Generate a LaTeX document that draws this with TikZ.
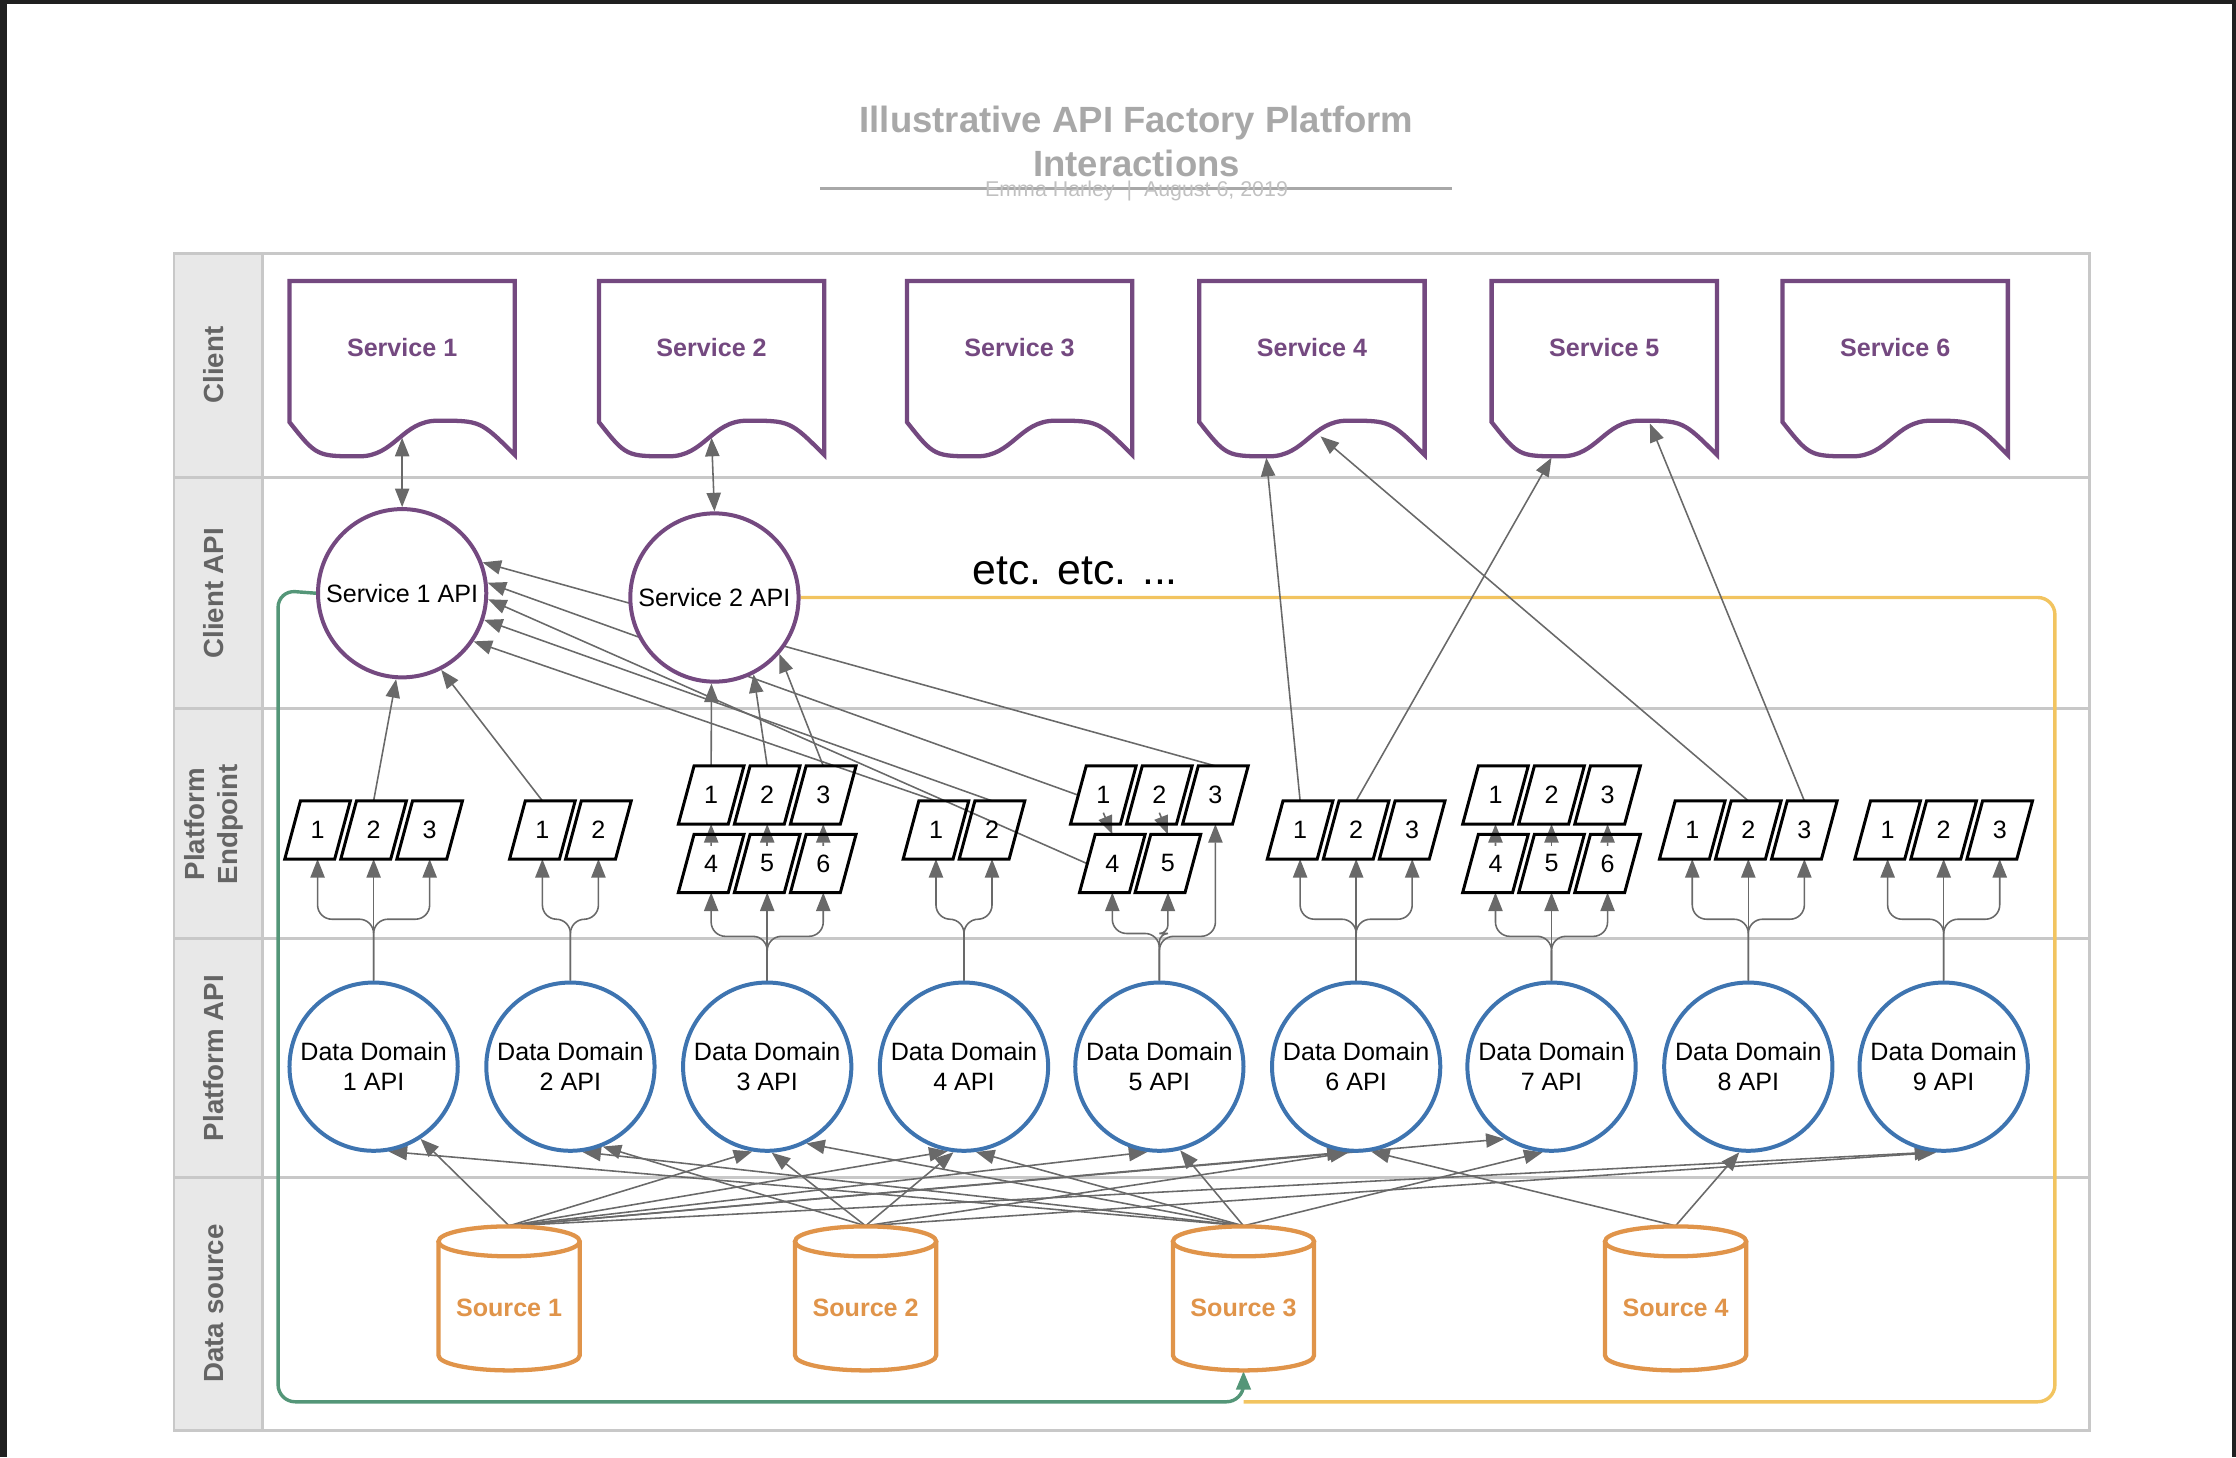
\documentclass[tikz,border=0pt]{standalone}
\usepackage{fontspec}
\setmainfont{Liberation Sans}
\usetikzlibrary{shapes.geometric, arrows.meta, positioning, calc}
\definecolor{svcpurple}{RGB}{116, 73, 128}
\definecolor{ddblue}{RGB}{62, 116, 176}
\definecolor{srcorange}{RGB}{224, 148, 74}
\definecolor{loopgreen}{RGB}{84, 150, 120}
\definecolor{loopyellow}{RGB}{242, 196, 96}
\definecolor{conngray}{RGB}{105, 105, 105}
\definecolor{lanegray}{RGB}{200, 200, 200}
\definecolor{headfill}{RGB}{232, 232, 232}
\definecolor{labelgray}{RGB}{100, 100, 100}
\definecolor{titlegray}{RGB}{168, 168, 168}
\definecolor{subgray}{RGB}{192, 192, 192}
\definecolor{framedark}{RGB}{32, 32, 32}

\pgfdeclarelayer{bg}
\pgfsetlayers{bg,main}

\tikzset{
  conn/.style={draw=conngray, line width=0.55pt, -{Triangle[length=6.5pt, width=5pt]}},
  dconn/.style={conn, {Triangle[length=6.5pt, width=5pt]}-{Triangle[length=6.5pt, width=5pt]}},
  lanebd/.style={draw=lanegray, line width=1pt},
  lanelbl/.style={rotate=90, align=center, text=labelgray, font=\fontsize{9.7}{11.5}\selectfont\bfseries},
  svcline/.style={draw=svcpurple, line width=1.5pt, fill=white},
  svctext/.style={text=svcpurple, font=\fontsize{8.8}{10.5}\selectfont\bfseries},
  capi/.style={circle, draw=svcpurple, line width=1.4pt, fill=white, minimum size=59pt, inner sep=0pt, font=\fontsize{8.8}{10.5}\selectfont},
  dd/.style={circle, draw=ddblue, line width=1.4pt, fill=white, minimum size=59pt, inner sep=0pt, align=center, font=\fontsize{8.8}{10.5}\selectfont},
  epline/.style={draw=black, line width=1.05pt},
  ep/.style={rectangle, minimum width=17.5pt, minimum height=20pt, inner sep=0pt, font=\fontsize{8.8}{10}\selectfont,
    append after command={\pgfextra{\draw[epline] ([xshift=-11.5pt]\tikzlastnode.south) -- ([xshift=6pt]\tikzlastnode.south)
      -- ([xshift=11.5pt]\tikzlastnode.north) -- ([xshift=-6pt]\tikzlastnode.north) -- cycle;}}},
  srcbox/.style={minimum width=49.5pt, minimum height=50.5pt, inner sep=0pt, text height=13pt, text depth=0pt, text=srcorange, font=\fontsize{8.8}{10.5}\selectfont\bfseries},
  srcline/.style={draw=srcorange, line width=1.5pt},
  loopline/.style={line width=1.2pt, rounded corners=6pt}
}

\begin{document}
\begin{tikzpicture}[x=0.5pt, y=-0.5pt]
  \useasboundingbox (0,0) rectangle (1568,1022);
  \fill[framedark] (0,0) rectangle (5,1022);
  \fill[framedark] (0,0) rectangle (1568,2.5);
  \fill[framedark] (1565.5,0) rectangle (1568,1022);

  % Title
  \node[align=center, inner sep=0pt, text=titlegray, font=\fontsize{12.8}{15.5}\selectfont\bfseries] (title) at (797,99)
    {Illustrative API Factory Platform\\Interactions};
  \draw[draw=titlegray, line width=1pt] (575,132) -- (1018,132);
  \node[inner sep=0pt, text=subgray, font=\fontsize{7.5}{9}\selectfont] (byline) at (797,134) {Emma Harley~~|~~August 6, 2019};

  % Swimlanes
  \begin{pgfonlayer}{bg}
    \fill[headfill] (122,178) rectangle (184,1003);
    \draw[lanebd] (122,178) rectangle (1465,1003);
    \draw[lanebd] (184,178) -- (184,1003);
    \foreach \y in {335,497,658,826}
      \draw[lanebd] (122,\y) -- (1465,\y);
  \end{pgfonlayer}
  \node[lanelbl] (lclient) at (150,256) {Client};
  \node[lanelbl] (lcapi) at (150,416) {Client API};
  \node[lanelbl] (lpend) at (150,578) {Platform\\Endpoint};
  \node[lanelbl] (lpapi) at (150,742) {Platform API};
  \node[lanelbl] (lsrc) at (150,914) {Data source};

  % Client
  \foreach \i/\x in {1/282,2/499,3/715,4/920,5/1125,6/1329} {
    \draw[svcline] (\x-79,197) -- (\x+79,197) -- (\x+79,319)
      .. controls (\x+55,295) .. (\x+25,295)
      .. controls (\x,295) and (\x-5,320) .. (\x-30,320)
      .. controls (\x-60,320) .. (\x-79,296) -- cycle;
    \node[svctext] (svc\i) at (\x,244) {Service \i};
  }
  \coordinate (s1w) at (282,307);
  \coordinate (s2w) at (499,307);
  \coordinate (s4a) at (888,321);
  \coordinate (s4b) at (926,306);
  \coordinate (s5a) at (1088,321);
  \coordinate (s5b) at (1157,297);

  % Client API
  \node[capi] (s1api) at (282,416) {Service 1 API};
  \node[capi] (s2api) at (501,419) {Service 2 API};
  \node[font=\fontsize{15}{18}\selectfont] (etc) at (754,400) {etc. etc. ...};

  % Platform API
  \foreach \i/\x in {1/262,2/400,3/538,4/676,5/813,6/951,7/1088,8/1226,9/1363}
    \node[dd] (dd\i) at (\x,748) {Data Domain\\\i~API};

  % Platform Endpoint
  \foreach \g/\c in {1/262,6/951,8/1226,9/1363}
    \foreach \k in {1,2,3}
      \node[ep] (ep\g\k) at (\c+39.3*\k-78.6,582) {\k};
  \foreach \g/\c in {2/400,4/676}
    \foreach \k in {1,2}
      \node[ep] (ep\g\k) at (\c+39.3*\k-58.95,582) {\k};
  \foreach \g/\c in {3/538,5/813,7/1088}
    \foreach \k in {1,2,3}
      \node[ep] (ep\g\k) at (\c+39.3*\k-78.6,557.5) {\k};
  \foreach \g/\c in {3/538,7/1088}
    \foreach \k in {4,5,6}
      \node[ep] (ep\g\k) at (\c+39.3*\k-196.5,605.5) {\k};
  \node[ep] (ep54) at (780,605.5) {4};
  \node[ep] (ep55) at (819,605.5) {5};

  % Data source
  \foreach \i/\x in {1/357,2/607,3/872,4/1175} {
    \draw[srcline, fill=white] (\x-49.5,870.5) -- (\x-49.5,950.5)
      arc[start angle=180, end angle=360, x radius=24.75pt, y radius=5.25pt] -- (\x+49.5,870.5);
    \draw[srcline] (\x,870.5) ellipse [x radius=24.75pt, y radius=5.25pt];
    \node[srcbox] (src\i) at (\x,910.5) {Source \i};
  }

  \begin{pgfonlayer}{bg}
    % loops round the lanes
    \draw[loopline, draw=loopyellow] (s2api.east) -- (1441,419) -- (1441,983) -- (872,983);
    \draw[loopline, draw=loopgreen, -{Triangle[length=6.5pt, width=5pt]}]
      (s1api.west) -- (195,414) -- (195,983) -- (872,983) -- (src3.south);

    % client to client API
    \draw[dconn] (s1w) -- (s1api.north);
    \draw[dconn] (s2w) -- (s2api.north);

    % data domains to endpoints
    \foreach \g in {1,6,8,9} {
      \draw[conn] (dd\g.north) -- (ep\g2.south);
      \draw[conn, rounded corners=5pt] (dd\g.north) -- ++(0,-43) -| (ep\g1.south);
      \draw[conn, rounded corners=5pt] (dd\g.north) -- ++(0,-43) -| (ep\g3.south);
    }
    \foreach \g in {2,4} {
      \draw[conn, rounded corners=5pt] (dd\g.north) -- ++(0,-43) -| (ep\g1.south);
      \draw[conn, rounded corners=5pt] (dd\g.north) -- ++(0,-43) -| (ep\g2.south);
    }
    \foreach \g in {3,7} {
      \draw[conn] (dd\g.north) -- (ep\g5.south);
      \draw[conn, rounded corners=5pt] (dd\g.north) -- ++(0,-31) -| (ep\g4.south);
      \draw[conn, rounded corners=5pt] (dd\g.north) -- ++(0,-31) -| (ep\g6.south);
      \draw[conn] ([yshift=-4pt]ep\g4.north) -- (ep\g1.south);
      \draw[conn] ([yshift=-4pt]ep\g5.north) -- (ep\g2.south);
      \draw[conn] ([yshift=-4pt]ep\g6.north) -- (ep\g3.south);
    }
    \draw[conn, rounded corners=5pt] (dd5.north) -- ++(0,-33) -| (ep54.south);
    \draw[conn, rounded corners=3pt] (dd5.north) -- ++(0,-33) -| (ep55.south);
    \draw[conn, rounded corners=5pt] (dd5.north) -- ++(0,-31) -| (ep53.south);
    \draw[conn] ([yshift=4pt]ep51.south) -- (ep54.north);
    \draw[conn] ([yshift=4pt]ep52.south) -- (ep55.north);

    % endpoints to client APIs
    \draw[conn] (ep12.north) -- (s1api.-94);
    \draw[conn] (ep21.north) -- (s1api.-63);
    \draw[conn] (ep41.north) -- (s1api.-34);
    \draw[conn] (ep42.north) -- (s1api.-18);
    \draw[conn] (ep54.west) -- (s1api.-4);
    \draw[conn] (ep51.west) -- (s1api.7);
    \draw[conn] (ep53.north) -- (s1api.21);
    \draw[conn] (ep31.north) -- (s2api.-92);
    \draw[conn] (ep32.north) -- (s2api.-63);
    \draw[conn] (ep33.north) -- (s2api.-41);

    % endpoints straight to services
    \draw[conn] (ep61.north) -- (s4a);
    \draw[conn] (ep62.north) -- (s5a);
    \draw[conn] (ep82.north) -- (s4b);
    \draw[conn] (ep83.north) -- (s5b);

    % sources to data domains
    \foreach \s/\d/\a in {1/1/-57, 1/3/-100, 1/4/-101, 1/5/-98, 1/6/-97, 1/7/-123, 1/9/-97,
                          2/2/-68, 2/3/-87, 2/4/-97, 2/6/-95, 2/9/-95,
                          3/1/-80, 3/2/-82, 3/3/-63, 3/4/-82, 3/5/-76, 3/7/-96,
                          4/6/-80, 4/8/-96}
      \draw[conn] (src\s.north) -- (dd\d.\a);
  \end{pgfonlayer}
\end{tikzpicture}
\end{document}
